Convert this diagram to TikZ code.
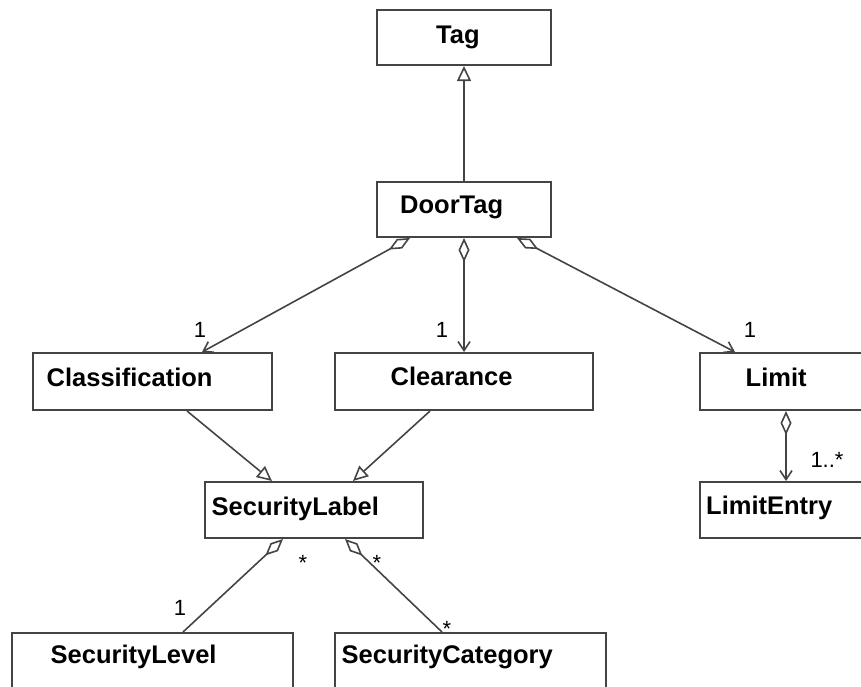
\documentclass[tikz,border=0pt]{standalone}
\usepackage{fontspec}
\setmainfont{Liberation Sans}
\usetikzlibrary{arrows.meta}
\definecolor{edge}{HTML}{444444}
\tikzset{
  box/.style={draw=edge, line width=2pt, fill=white, inner sep=0pt},
  clsname/.style={inner sep=0pt, anchor=base west, font=\fontsize{25.5}{28}\selectfont\bfseries},
  mult/.style={inner sep=0pt, anchor=base, font=\fontsize{22}{24}\selectfont},
  link/.style={draw=edge, line width=1.6pt},
  inherit/.style={link, -{Triangle[open, length=15pt, width=14pt]}},
  agg/.style={link, {Diamond[open, length=24pt, width=11pt]}-{Straight Barb[length=9pt, width=12pt]}},
  aggplain/.style={link, {Diamond[open, length=24pt, width=11pt]}-}
}
\begin{document}
\begin{tikzpicture}[x=1pt, y=-1pt]
\useasboundingbox (0,0) rectangle (861,686);
\clip (0,0) rectangle (861,686);

% class boxes
\node[box, minimum width=174pt, minimum height=55pt] (tag) at (464,37.5) {};
\node[box, minimum width=174pt, minimum height=55pt] (doortag) at (464,209.5) {};
\node[box, minimum width=239pt, minimum height=57pt] (classification) at (152.5,381.5) {};
\node[box, minimum width=258pt, minimum height=57pt] (clearance) at (464,381.5) {};
\node[box, minimum width=228pt, minimum height=57pt] (limit) at (814,381.5) {};
\node[box, minimum width=228pt, minimum height=56pt] (limitentry) at (814,510) {};
\node[box, minimum width=218pt, minimum height=56pt] (securitylabel) at (314,510) {};
\node[box, minimum width=281pt, minimum height=57pt] (securitylevel) at (152.5,661.5) {};
\node[box, minimum width=271pt, minimum height=57pt] (securitycategory) at (470.5,661.5) {};

% class names
\node[clsname] (tagname) at (436,43) {Tag};
\node[clsname] (doortagname) at (400,213) {DoorTag};
\node[clsname] (classificationname) at (46.5,386) {Classification};
\node[clsname] (clearancename) at (390.5,385) {Clearance};
\node[clsname] (limitname) at (745.5,386) {Limit};
\node[clsname] (limitentryname) at (706,514) {LimitEntry};
\node[clsname] (securitylabelname) at (211.5,515) {SecurityLabel};
\node[clsname] (securitylevelname) at (50.5,663) {SecurityLevel};
\node[clsname] (securitycategoryname) at (341.5,663) {SecurityCategory};

% generalisations
\draw[inherit] (doortag.north) -- (tag.south);
\draw[inherit] ([xshift=34.5pt]classification.south) -- ([xshift=-42pt]securitylabel.north);
\draw[inherit] ([xshift=-34pt]clearance.south) -- ([xshift=39pt]securitylabel.north);

% aggregations
\draw[agg] ([xshift=-54pt]doortag.south) -- ([xshift=49.5pt]classification.north);
\draw[agg] (doortag.south) -- (clearance.north);
\draw[agg] ([xshift=53pt]doortag.south) -- ([xshift=-79pt]limit.north);
\draw[agg] ([xshift=-28pt]limit.south) -- ([xshift=-28pt]limitentry.north);
\draw[aggplain] ([xshift=-31pt]securitylabel.south) -- ([xshift=30.5pt]securitylevel.north);
\draw[aggplain] ([xshift=31pt]securitylabel.south) -- ([xshift=-28.5pt]securitycategory.north);

% multiplicities
\node[mult] (m1) at (200,337) {1};
\node[mult] (m2) at (442,337) {1};
\node[mult] (m3) at (750,337) {1};
\node[mult] (m4) at (827,467) {1..*};
\node[mult] (m5) at (303,570) {*};
\node[mult] (m6) at (377,570) {*};
\node[mult] (m7) at (180,615) {1};
\node[mult] (m8) at (447,636) {*};
\end{tikzpicture}
\end{document}
